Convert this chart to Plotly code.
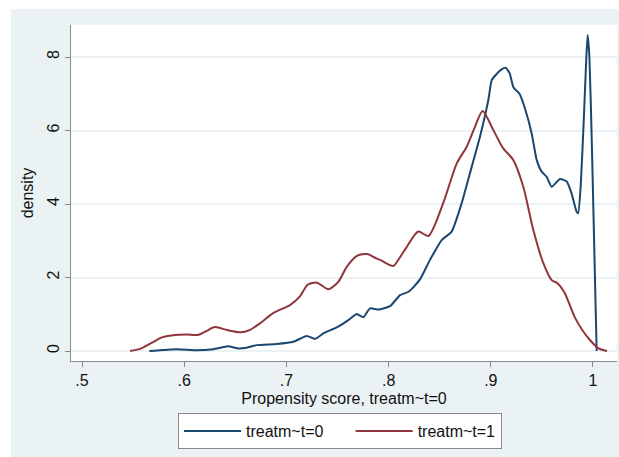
import plotly.graph_objects as go

# Kernel density, treatm~t=0 (blue)
x_t0 = [0.5659, 0.5927, 0.6122, 0.6285, 0.6431, 0.6529, 0.6611, 0.6709, 0.6905, 0.7068,
        0.7199, 0.728, 0.7361, 0.7492, 0.7606, 0.7688, 0.7753, 0.7818, 0.7899, 0.8014,
        0.8112, 0.82, 0.8307, 0.8405, 0.852, 0.8617, 0.8715, 0.8813, 0.8894, 0.8976,
        0.9009, 0.9048, 0.9099, 0.9145, 0.9184, 0.9222, 0.9281, 0.9339, 0.94, 0.9449,
        0.9498, 0.9547, 0.9596, 0.9677, 0.9743, 0.979, 0.984, 0.9855, 0.988, 0.991,
        0.9935, 0.9948, 0.9965, 0.999, 1.0015, 1.0036]
y_t0 = [0.0, 0.05, 0.02, 0.05, 0.13, 0.07, 0.09, 0.16, 0.19, 0.25,
        0.41, 0.33, 0.48, 0.64, 0.84, 1.01, 0.92, 1.16, 1.13, 1.22,
        1.52, 1.62, 1.95, 2.48, 3.02, 3.25, 4.02, 5.01, 5.83, 6.83,
        7.37, 7.51, 7.65, 7.71, 7.56, 7.17, 7.0, 6.56, 5.92, 5.2,
        4.88, 4.74, 4.47, 4.68, 4.61, 4.29, 3.79, 3.75, 4.5, 6.3,
        8.0, 8.6, 8.0, 5.5, 2.5, 0.0]

# Kernel density, treatm~t=1 (red)
x_t1 = [0.547, 0.556, 0.56, 0.57, 0.578, 0.589, 0.602, 0.614, 0.622, 0.63,
        0.642, 0.655, 0.664, 0.674, 0.687, 0.7035, 0.713, 0.721, 0.73, 0.741,
        0.751, 0.759, 0.769, 0.779, 0.788, 0.7916, 0.8046, 0.8095, 0.817, 0.829,
        0.839, 0.8535, 0.8666, 0.8764, 0.8845, 0.892, 0.9025, 0.912, 0.922, 0.9318,
        0.9416, 0.9514, 0.9596, 0.965, 0.972, 0.982, 0.99, 0.997, 1.005, 1.0137]
y_t1 = [0.0, 0.05, 0.1, 0.25, 0.37, 0.43, 0.45, 0.44, 0.55, 0.65,
        0.57, 0.51, 0.57, 0.75, 1.03, 1.25, 1.48, 1.81, 1.86, 1.68,
        1.89, 2.29, 2.59, 2.64, 2.52, 2.48, 2.31, 2.48, 2.8, 3.25,
        3.13, 4.03, 5.1, 5.56, 6.1, 6.53, 6.01, 5.52, 5.2, 4.47,
        3.29, 2.39, 1.93, 1.85, 1.6, 0.93, 0.55, 0.3, 0.08, 0.0]

series_names = ["treatm~t=0", "treatm~t=1"]
x_tickvals = [0.5, 0.6, 0.7, 0.8, 0.9, 1.0]
x_ticktext = [".5", ".6", ".7", ".8", ".9", "1"]
y_tickvals = [0, 2, 4, 6, 8]
y_ticktext = ["0", "2", "4", "6", "8"]

BG = "#eaf2f3"
FONT = "Liberation Sans, Arial, sans-serif"
FS = 16
NBSP = "\u00a0"

fig = go.Figure()
fig.add_trace(go.Scatter(x=x_t0, y=y_t0, mode="lines", name=series_names[0] + NBSP * 5,
                         line=dict(color="#1a476f", width=2, shape="spline", smoothing=0.5)))
fig.add_trace(go.Scatter(x=x_t1, y=y_t1, mode="lines", name=series_names[1],
                         line=dict(color="#90353b", width=2, shape="spline", smoothing=0.7)))

fig.update_layout(
    width=619, height=457,
    margin=dict(l=71, r=2, t=25, b=96),
    paper_bgcolor=BG, plot_bgcolor="white",
    font=dict(family=FONT, size=FS, color="#111"),
    showlegend=True,
    legend=dict(orientation="h", x=0.196, y=-0.155, xanchor="left", yanchor="top",
                bgcolor="white", bordercolor="#8a8a8a", borderwidth=1,
                itemwidth=57, font=dict(size=FS), traceorder="normal"),
    xaxis=dict(range=[0.4892, 1.0235], tickvals=x_tickvals, ticktext=x_ticktext,
               showgrid=False, zeroline=False, showline=True, linecolor="#8a8a8a",
               linewidth=1, ticks="outside", ticklen=5, tickcolor="#8a8a8a",
               title=dict(text="Propensity score, treatm~t=0", standoff=4,
                          font=dict(size=FS))),
    yaxis=dict(range=[-0.272, 8.871], tickvals=y_tickvals, ticktext=y_ticktext,
               tickangle=-90, showgrid=True, gridcolor=BG, gridwidth=1.5,
               zeroline=False, showline=True, linecolor="#8a8a8a", linewidth=1,
               ticks="outside", ticklen=5, tickcolor="#8a8a8a",
               title=dict(text="density", standoff=6, font=dict(size=FS))),
    shapes=[
        dict(type="rect", xref="paper", yref="paper", x0=-0.2, x1=-0.1099,
             y0=-0.4, y1=1.2, fillcolor="white", line=dict(width=0), layer="above"),
        dict(type="rect", xref="paper", yref="paper", x0=-0.2, x1=1.1,
             y0=1.0476, y1=1.2, fillcolor="white", line=dict(width=0), layer="above"),
    ],
)

fig.write_html("out.html", config={"displayModeBar": False},
               post_script="document.body.style.margin='0';document.body.style.overflow='hidden';")
